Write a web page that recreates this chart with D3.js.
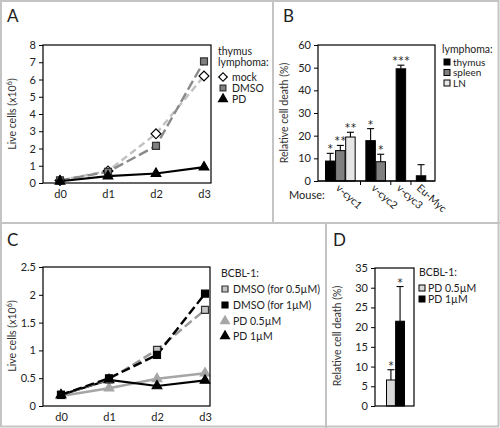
<!DOCTYPE html>
<html><head><meta charset="utf-8">
<script src="https://cdn.jsdelivr.net/npm/d3@7"></script>
<style>
body{margin:0;background:#fff;}
svg{display:block;font-family:Lato,sans-serif;}
</style></head>
<body><svg id="c" width="500" height="428"></svg>
<script>
// ---------- DATA ----------
const days = ["d0","d1","d2","d3"];
// Panel A (thymus lymphoma, live cells x10^6)
const mockA = [0.15,0.7,2.85,6.2];
const dmsoA = [0.15,0.65,2.15,7.05];
const pdA   = [0.1,0.4,0.55,0.92];
const legendA = ["mock","DMSO","PD"];
// Panel B (relative cell death %)
const mice = ["v-cyc1","v-cyc2","v-cyc3","Eu-Myc"];
const tissues = ["thymus","spleen","LN"];
const thymusB = [8.8,17.8,49.5,2.3];
const spleenB = [13.4,8.5,null,null];
const lnB     = [19.4,null,null,null];
const thymusSd = [3.4,5.3,1.6,4.9];
const spleenSd = [2.3,3.3,null,null];
const lnSd     = [2.1,null,null,null];
const thymusStars = ["*","*","***",""];
const spleenStars = ["**","*","",""];
const lnStars     = ["**","","",""];
const yTicksB = [0,10,20,30,40,50,60];
// Panel C (BCBL-1, live cells x10^6)
const dmso05 = [0.2,0.48,1.01,1.73];
const dmso1  = [0.2,0.5,0.92,2.02];
const pd05   = [0.18,0.32,0.49,0.59];
const pd1    = [0.2,0.47,0.36,0.46];
const legendC = ["DMSO (for 0.5µM)","DMSO (for 1µM)","PD 0.5µM","PD 1µM"];
const yTicksC = [0,0.5,1,1.5,2,2.5];
// Panel D (relative cell death %)
const doseD = ["PD 0.5µM","PD 1µM"];
const deathD = [6.6,21.5];
const sdD = [2.6,8.8];
const starsD = ["*","*"];
const yTicksD = [0,5,10,15,20,25,30,35];

// ---------- DRAW ----------
const svg = d3.select("#c");
const TXT = "#222";
const FONT = "Lato";
// panel borders
const border = "#c4c4c4";
svg.append("rect").attr("x",1).attr("y",1).attr("width",497.5).attr("height",425.5)
  .attr("fill","none").attr("stroke",border).attr("stroke-width",2);
svg.append("line").attr("x1",273).attr("x2",273).attr("y1",0).attr("y2",223).attr("stroke",border).attr("stroke-width",2);
svg.append("line").attr("x1",0).attr("x2",500).attr("y1",223).attr("y2",223).attr("stroke",border).attr("stroke-width",2);
svg.append("line").attr("x1",326).attr("x2",326).attr("y1",223).attr("y2",428).attr("stroke",border).attr("stroke-width",2);

function panelLabel(t,x,y){
  svg.append("text").attr("x",x).attr("y",y).attr("font-size",17).attr("fill",TXT).text(t);
}
panelLabel("A",7,22); panelLabel("B",283,22); panelLabel("C",7,246); panelLabel("D",333,246);

function frame(x0,x1,y0,y1){
  svg.append("rect").attr("x",x0).attr("y",y0).attr("width",x1-x0).attr("height",y1-y0)
    .attr("fill","none").attr("stroke","#000").attr("stroke-width",1.2);
}
function yAxis(scale,x,ticks,fmt){
  const g = svg.append("g").attr("transform",`translate(${x},0)`)
    .call(d3.axisLeft(scale).tickValues(ticks).tickSize(4).tickPadding(3).tickFormat(fmt||d3.format("")));
  g.select(".domain").remove();
  g.selectAll("line").attr("stroke","#000");
  g.selectAll("text").attr("font-size",11).attr("fill",TXT).attr("font-family",FONT);
  return g;
}
function yLabel(x,y,parts){
  const t = svg.append("text").attr("transform",`translate(${x},${y}) rotate(-90)`)
    .attr("text-anchor","middle").attr("font-size",10.5).attr("fill","#333");
  parts.forEach(p=>{
    const s=t.append("tspan").text(p.t);
    if(p.sup){s.attr("font-size",7.5).attr("dy",-4);}
    if(p.after){s.attr("dy",4);}
  });
}
function xDayAxis(scale,y){
  const g = svg.append("g").attr("transform",`translate(0,${y})`)
    .call(d3.axisBottom(scale).tickSize(0).tickPadding(7));
  g.select(".domain").remove();
  g.selectAll("text").attr("font-size",11).attr("fill",TXT).attr("font-family",FONT);
}
function lineSeries(xs,ys,vals,color,dash,width){
  const ln = d3.line().x((d,i)=>xs(days[i])).y(d=>ys(d));
  svg.append("path").datum(vals).attr("d",ln).attr("fill","none")
    .attr("stroke",color).attr("stroke-width",width||2.4).attr("stroke-dasharray",dash||null);
}
function markers(xs,ys,vals,type,size,fill,stroke,rot){
  svg.append("g").selectAll("path").data(vals).join("path")
    .attr("transform",(d,i)=>`translate(${xs(days[i])},${ys(d)}) rotate(${rot||0})`)
    .attr("d",d3.symbol().type(type).size(size))
    .attr("fill",fill).attr("stroke",stroke).attr("stroke-width",1.2);
}
function legendSym(x,y,type,size,fill,stroke,rot){
  svg.append("path").attr("transform",`translate(${x},${y}) rotate(${rot||0})`)
    .attr("d",d3.symbol().type(type).size(size)).attr("fill",fill).attr("stroke",stroke).attr("stroke-width",1.2);
}
function legendText(x,y,t,fs){
  svg.append("text").attr("x",x).attr("y",y).attr("dy","0.35em").attr("font-size",fs||10.5).attr("fill",TXT).text(t);
}
function star(x,y,t){
  svg.append("text").attr("x",x).attr("y",y).attr("text-anchor","middle")
    .attr("font-family","DejaVu Sans").attr("font-size",10).attr("letter-spacing",1)
    .attr("fill","#222").text(t);
}

// ===== Panel A =====
{
  const x = d3.scalePoint().domain(days).range([60,204]);
  const y = d3.scaleLinear().domain([0,8]).range([183,45]);
  yAxis(y,43,d3.range(0,9));
  xDayAxis(x,183);
  lineSeries(x,y,mockA,"#c2c2c2","7,4");
  lineSeries(x,y,dmsoA,"#8a8a8a","10,4");
  lineSeries(x,y,pdA,"#000",null,2.2);
  markers(x,y,mockA,d3.symbolSquare,48,"#fff","#000",45);
  markers(x,y,dmsoA,d3.symbolSquare,48,"#808080","#333");
  markers(x,y,pdA,d3.symbolTriangle,40,"#000","#000");
  frame(43,211,45,183);
  yLabel(16,114,[{t:"Live cells (x10"},{t:"6",sup:true},{t:")",after:true}]);
  legendText(218,51,"thymus",10.5);
  legendText(218,62,"lymphoma:",10.5);
  const ly=[77,88,99];
  legendSym(223,ly[0],d3.symbolSquare,36,"#fff","#000",45);
  legendSym(223,ly[1],d3.symbolSquare,34,"#808080","#333");
  legendSym(223,ly[2],d3.symbolTriangle,34,"#000","#000");
  legendA.forEach((t,i)=>legendText(232,ly[i],t));
}

// ===== Panel B =====
{
  const y = d3.scaleLinear().domain([0,60]).range([181,45]);
  // build slots: bars of each mouse, gap slot between groups
  const slots=[]; const gaps=[]; const groupCenters=[];
  const seriesVals=[thymusB,spleenB,lnB], seriesSd=[thymusSd,spleenSd,lnSd], seriesStars=[thymusStars,spleenStars,lnStars];
  const fills=["#000","#808080","#e6e6e6"];
  mice.forEach((m,mi)=>{
    const start=slots.length;
    tissues.forEach((t,ti)=>{
      const v=seriesVals[ti][mi];
      if(v!=null) slots.push({key:m+"-"+t,v,sd:seriesSd[ti][mi],star:seriesStars[ti][mi],fill:fills[ti]});
    });
    groupCenters.push({m,s:start,e:slots.length-1});
    if(mi<mice.length-1){gaps.push("gap"+mi); slots.push({key:"gap"+mi,gap:true});}
  });
  const x = d3.scaleBand().domain(slots.map(s=>s.key)).range([325.5,425.8]).paddingInner(0.06);
  yAxis(y,318,yTicksB);
  const bars = slots.filter(s=>!s.gap);
  svg.append("g").selectAll("rect").data(bars).join("rect")
    .attr("x",d=>x(d.key)).attr("width",x.bandwidth())
    .attr("y",d=>y(d.v)).attr("height",d=>y(0)-y(d.v))
    .attr("fill",d=>d.fill).attr("stroke","#000").attr("stroke-width",1);
  const eg = svg.append("g").attr("stroke","#000").attr("stroke-width",1.1);
  bars.forEach(d=>{
    const cx=x(d.key)+x.bandwidth()/2;
    eg.append("line").attr("x1",cx).attr("x2",cx).attr("y1",y(d.v)).attr("y2",y(d.v+d.sd));
    eg.append("line").attr("x1",cx-3.5).attr("x2",cx+3.5).attr("y1",y(d.v+d.sd)).attr("y2",y(d.v+d.sd));
    if(d.star) star(cx+0.5,y(d.v+d.sd)-1,d.star);
  });
  // x axis with ticks at gap slots
  svg.append("line").attr("x1",318).attr("x2",435).attr("y1",181).attr("y2",181).attr("stroke","#000").attr("stroke-width",1.2);
  gaps.forEach(g=>{
    const gx=x(g)+x.bandwidth()/2;
    svg.append("line").attr("x1",gx).attr("x2",gx).attr("y1",181).attr("y2",185).attr("stroke","#000");
  });
  frame(318,435,45,181);
  groupCenters.forEach(g=>{
    const cx=(x(slots[g.s].key)+x(slots[g.e].key)+x.bandwidth())/2;
    svg.append("text").attr("transform",`translate(${cx-5},${189}) rotate(42)`)
      .attr("font-size",10.5).attr("fill",TXT).text(g.m);
  });
  svg.append("text").attr("x",289).attr("y",199).attr("font-size",11).attr("fill",TXT).text("Mouse:");
  yLabel(288,113,[{t:"Relative cell death (%)"}]);
  legendText(442,49,"lymphoma:",10.5);
  const ly=[62,72.5,83];
  tissues.forEach((t,i)=>{
    svg.append("rect").attr("x",444).attr("y",ly[i]-3).attr("width",6).attr("height",6)
      .attr("fill",fills[i]).attr("stroke","#000").attr("stroke-width",1);
    legendText(453,ly[i],t,10);
  });
}

// ===== Panel C =====
{
  const x = d3.scalePoint().domain(days).range([61,205]);
  const y = d3.scaleLinear().domain([0,2.5]).range([406,267]);
  yAxis(y,43,yTicksC);
  xDayAxis(x,406);
  lineSeries(x,y,pd05,"#a6a6a6",null,2.4);
  lineSeries(x,y,pd1,"#000",null,2.2);
  lineSeries(x,y,dmso05,"#9a9a9a","9,4");
  lineSeries(x,y,dmso1,"#000","9,4");
  markers(x,y,pd05,d3.symbolTriangle,40,"#a6a6a6","#a6a6a6");
  markers(x,y,pd1,d3.symbolTriangle,40,"#000","#000");
  markers(x,y,dmso05,d3.symbolSquare,48,"#c4c4c4","#333");
  markers(x,y,dmso1,d3.symbolSquare,48,"#000","#000");
  frame(43,210,267,406);
  yLabel(16,336,[{t:"Live cells (x10"},{t:"6",sup:true},{t:")",after:true}]);
  legendText(221,273,"BCBL-1:",10.5);
  const ly=[289,305,321,336];
  legendSym(225,ly[0],d3.symbolSquare,36,"#c4c4c4","#333");
  legendSym(225,ly[1],d3.symbolSquare,36,"#000","#000");
  legendSym(225,ly[2],d3.symbolTriangle,34,"#a6a6a6","#a6a6a6");
  legendSym(225,ly[3],d3.symbolTriangle,34,"#000","#000");
  legendC.forEach((t,i)=>legendText(233,ly[i],t));
}

// ===== Panel D =====
{
  const y = d3.scaleLinear().domain([0,35]).range([406,268]);
  const x = d3.scaleBand().domain(doseD).range([386.5,404.5]).paddingInner(0.03);
  const fills=["#d9d9d9","#000"];
  yAxis(y,375,yTicksD);
  svg.append("g").selectAll("rect").data(doseD).join("rect")
    .attr("x",d=>x(d)).attr("width",x.bandwidth())
    .attr("y",(d,i)=>y(deathD[i])).attr("height",(d,i)=>y(0)-y(deathD[i]))
    .attr("fill",(d,i)=>fills[i]).attr("stroke","#000").attr("stroke-width",1);
  doseD.forEach((d,i)=>{
    const cx=x(d)+x.bandwidth()/2, top=y(deathD[i]+sdD[i]);
    svg.append("line").attr("x1",cx).attr("x2",cx).attr("y1",y(deathD[i])).attr("y2",top).attr("stroke","#000").attr("stroke-width",1.1);
    svg.append("line").attr("x1",cx-3.5).attr("x2",cx+3.5).attr("y1",top).attr("y2",top).attr("stroke","#000").attr("stroke-width",1.1);
    star(cx+0.5,top-1,starsD[i]);
  });
  frame(375,414,268,406);
  yLabel(341,336,[{t:"Relative cell death (%)"}]);
  legendText(419,272,"BCBL-1:",10.5);
  const ly=[288,299];
  doseD.forEach((t,i)=>{
    svg.append("rect").attr("x",419).attr("y",ly[i]-3).attr("width",6).attr("height",6)
      .attr("fill",fills[i]).attr("stroke","#000").attr("stroke-width",1);
    legendText(428,ly[i],t);
  });
}
</script></body></html>
